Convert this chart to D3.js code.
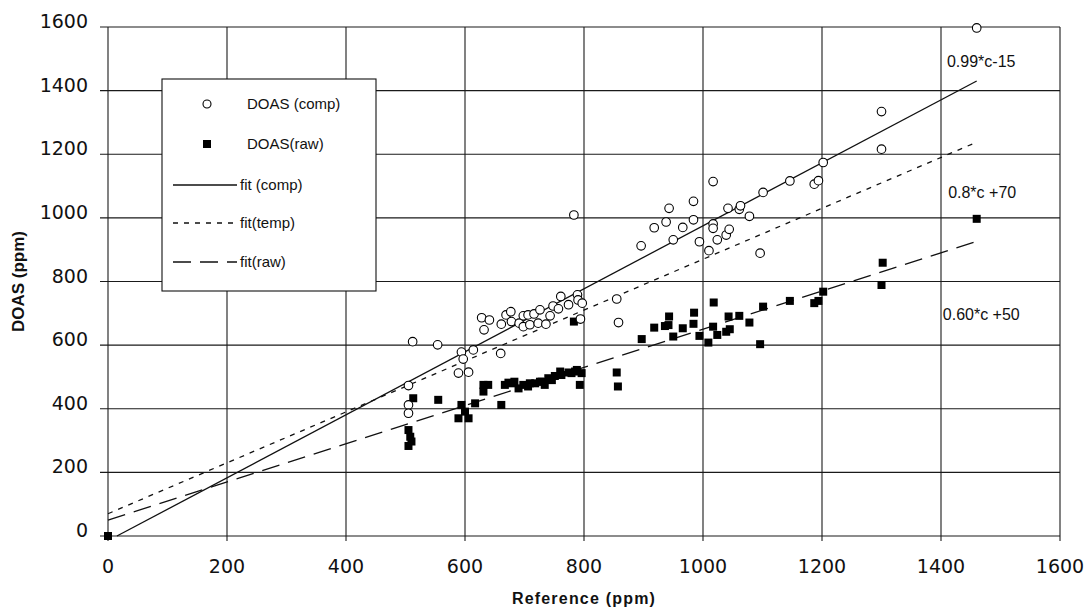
<!DOCTYPE html>
<html>
<head>
<meta charset="utf-8">
<script src="https://cdn.jsdelivr.net/npm/d3@7"></script>
<style>
  body { margin: 0; background: #fff; }
  text { font-family: "Liberation Sans", Arial, sans-serif; fill: #111; }
</style>
</head>
<body>
<div id="chart"></div>
<script>
// DOAS compensated readings [reference, doas]
const compPoints = [
  [505, 473], [505, 412], [505, 386], [512, 611], [554, 601], [589, 512], [606, 515],
  [594, 578], [614, 585], [597, 556], [628, 686], [641, 679], [632, 648], [660, 574],
  [661, 666], [669, 695], [677, 705], [678, 674], [691, 669], [698, 692], [698, 658],
  [706, 695], [709, 664], [716, 698], [726, 711], [723, 669], [736, 666], [743, 692],
  [748, 723], [757, 714], [761, 753], [774, 727], [789, 758], [790, 742], [797, 732],
  [794, 682], [783, 1009], [855, 745], [858, 671], [896, 912], [918, 969], [938, 987],
  [943, 1030], [950, 931], [966, 970], [984, 1052], [984, 994], [994, 925], [1017, 1114],
  [1017, 981], [1017, 967], [1010, 897], [1024, 931], [1039, 946], [1044, 964],
  [1042, 1030], [1061, 1027], [1063, 1038], [1078, 1005], [1096, 889], [1101, 1080],
  [1146, 1116], [1187, 1106], [1194, 1117], [1202, 1174], [1300, 1334], [1300, 1216],
  [1460, 1597]
];

// DOAS raw readings [reference, doas]
const rawPoints = [
  [0, 0], [505, 283], [510, 297], [508, 312], [505, 333], [513, 433], [555, 428],
  [589, 370], [606, 370], [594, 412], [600, 391], [617, 417], [661, 412], [631, 475],
  [639, 475], [631, 454], [667, 475], [673, 482], [678, 480], [683, 485], [690, 464],
  [698, 475], [706, 470], [709, 480], [718, 480], [726, 485], [729, 485], [734, 475],
  [740, 496], [746, 490], [751, 503], [760, 517], [762, 506], [774, 514], [779, 512],
  [785, 517], [788, 522], [796, 512], [793, 475], [783, 674], [855, 514], [857, 470],
  [897, 619], [918, 655], [936, 660], [943, 690], [942, 663], [950, 627], [966, 653],
  [985, 702], [984, 667], [994, 629], [1009, 608], [1018, 734], [1017, 658], [1024, 632],
  [1039, 642], [1045, 650], [1043, 690], [1061, 692], [1078, 671], [1101, 721],
  [1096, 603], [1146, 739], [1187, 732], [1194, 739], [1202, 768], [1300, 789],
  [1302, 859], [1460, 997]
];

// fitted lines: slope, intercept, x range
const fitNames = ["fit (comp)", "fit(temp)", "fit(raw)"];
const fitSlopes = [0.99, 0.8, 0.6];
const fitIntercepts = [-15, 70, 50];
const fitStarts = [15, 0, 0];
const fitEnds = [1460, 1460, 1460];
const fitDash = [null, "5,6", "18,9"];

const fitLabels = ["0.99*c-15", "0.8*c +70", "0.60*c +50"];
const fitLabelPos = [[1410, 1475], [1412, 1063], [1403, 679]];

const xTicks = [0, 200, 400, 600, 800, 1000, 1200, 1400, 1600];
const yTicks = [0, 200, 400, 600, 800, 1000, 1200, 1400, 1600];

const W = 1087, H = 613;
const svg = d3.select("#chart").append("svg")
  .attr("width", W).attr("height", H);

const x = d3.scaleLinear().domain([0, 1600]).range([108, 1060]);
const y = d3.scaleLinear().domain([0, 1600]).range([536, 27]);

// grid
const grid = svg.append("g").attr("stroke", "#1a1a1a").attr("stroke-width", 1.1);
grid.selectAll(".vg").data(xTicks).enter().append("line")
  .attr("x1", d => x(d)).attr("x2", d => x(d))
  .attr("y1", y(1600)).attr("y2", y(0) + 5);
grid.selectAll(".hg").data(yTicks).enter().append("line")
  .attr("x1", x(0) - 8).attr("x2", x(1600))
  .attr("y1", d => y(d)).attr("y2", d => y(d));

// tick labels
svg.append("g").selectAll("text").data(yTicks).enter().append("text")
  .attr("x", 88).attr("y", d => y(d) + 1)
  .attr("text-anchor", "end")
  .style("font-family", "'DejaVu Sans', sans-serif")
  .style("font-size", "19px")
  .text(d => d);
svg.append("g").selectAll("text").data(xTicks).enter().append("text")
  .attr("x", d => x(d)).attr("y", 573)
  .attr("text-anchor", "middle")
  .style("font-family", "'DejaVu Sans', sans-serif")
  .style("font-size", "19px")
  .text(d => d);

// axis titles
svg.append("text")
  .attr("x", x(800)).attr("y", 604)
  .attr("text-anchor", "middle")
  .style("font-size", "16px").style("font-weight", "bold")
  .style("letter-spacing", "1.2px")
  .text("Reference (ppm)");
svg.append("text")
  .attr("transform", "translate(24," + y(800) + ") rotate(-90)")
  .attr("text-anchor", "middle")
  .style("font-size", "17px").style("font-weight", "bold")
  .text("DOAS (ppm)");

// fit lines
const line = d3.line().x(d => x(d[0])).y(d => y(d[1]));
fitNames.forEach(function(name, i) {
  const pts = [fitStarts[i], fitEnds[i]].map(v => [v, fitSlopes[i] * v + fitIntercepts[i]]);
  svg.append("path")
    .datum(pts)
    .attr("d", line)
    .attr("fill", "none")
    .attr("stroke", "#111")
    .attr("stroke-width", 1.3)
    .attr("stroke-dasharray", fitDash[i]);
});

// points
svg.append("g").selectAll("rect").data(rawPoints).enter().append("rect")
  .attr("x", d => x(d[0]) - 4).attr("y", d => y(d[1]) - 4)
  .attr("width", 8).attr("height", 8)
  .attr("fill", "#000");
svg.append("g").selectAll("circle").data(compPoints).enter().append("circle")
  .attr("cx", d => x(d[0])).attr("cy", d => y(d[1]))
  .attr("r", 4.3)
  .attr("fill", "#fff").attr("stroke", "#000").attr("stroke-width", 1.1);

// equation labels
svg.append("g").selectAll("text").data(fitLabels).enter().append("text")
  .attr("x", (d, i) => x(fitLabelPos[i][0]))
  .attr("y", (d, i) => y(fitLabelPos[i][1]))
  .style("font-size", "16px")
  .text(d => d);

// legend
const lg = svg.append("g");
lg.append("rect")
  .attr("x", 162).attr("y", 79).attr("width", 214).attr("height", 212)
  .attr("fill", "#fff").attr("stroke", "#111").attr("stroke-width", 1.1);
const legendNames = ["DOAS (comp)", "DOAS(raw)"].concat(fitNames);
const legendY = [104, 144, 185, 223, 262];
legendNames.forEach(function(name, i) {
  const ly = legendY[i];
  if (i === 0) {
    lg.append("circle").attr("cx", 207).attr("cy", ly).attr("r", 4)
      .attr("fill", "#fff").attr("stroke", "#000").attr("stroke-width", 1.1);
  } else if (i === 1) {
    lg.append("rect").attr("x", 203).attr("y", ly - 4).attr("width", 8).attr("height", 8)
      .attr("fill", "#000");
  } else {
    lg.append("line").attr("x1", 173).attr("x2", 237).attr("y1", ly).attr("y2", ly)
      .attr("stroke", "#111").attr("stroke-width", 1.3)
      .attr("stroke-dasharray", fitDash[i - 2]);
  }
  lg.append("text")
    .attr("x", i < 2 ? 247 : 240).attr("y", ly + 5)
    .style("font-size", "15px")
    .text(name);
});
</script>
</body>
</html>
